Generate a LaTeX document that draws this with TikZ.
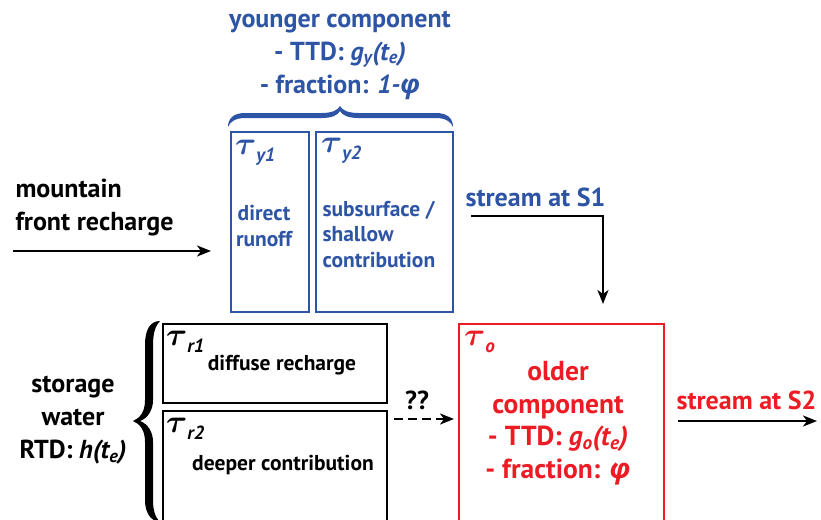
\documentclass[tikz,border=0pt]{standalone}
\usepackage{fontspec}
\usepackage{bm}
\setmainfont{PT Sans}
\newfontfamily\phifont{Open Sans}
\usetikzlibrary{arrows.meta}

\definecolor{youngblue}{RGB}{46,84,165}
\definecolor{oldred}{RGB}{237,28,36}

\newcommand{\tausub}[1]{\scalebox{1.3}{$\bm{\tau}$}\raisebox{-7pt}{\normalfont\bfseries\itshape\fontsize{19}{19}\selectfont #1}}
\newcommand{\phisym}{{\phifont\bfseries\itshape φ}}

\tikzset{
  box/.style={draw, line width=2.4pt, anchor=north west, inner sep=0pt},
  taulabel/.style={anchor=north west, inner sep=0pt},
  boxtext/.style={font=\bfseries\fontsize{21.5}{25.5}\selectfont},
  flow/.style={-{Stealth[length=14pt,width=11pt,inset=4pt]}, line width=2.3pt},
}

\begin{document}
\begin{tikzpicture}[x=1pt,y=-1pt,font=\bfseries\fontsize{26}{33}\selectfont]
  \useasboundingbox (0,0) rectangle (821,519);
  \clip (0,0) rectangle (821,519);

  % younger component
  \node[box, draw=youngblue, minimum width=78pt, minimum height=180pt]
        (runoff) at (230,131) {};
  \node[box, draw=youngblue, minimum width=137pt, minimum height=180pt]
        (shallow) at (315,131) {};
  \node[taulabel, youngblue] (tauy1) at ([shift={(5,9)}]runoff.north west)
        {\tausub{y1}};
  \node[taulabel, youngblue] (tauy2) at ([shift={(6,7)}]shallow.north west)
        {\tausub{y2}};
  \node[boxtext, youngblue, align=center] (runofftxt) at (264,226)
        {direct\\runoff};
  \node[boxtext, youngblue, align=left, anchor=west] (shallowtxt) at (319,234)
        {subsurface /\\shallow\\contribution};
  % brace over the younger boxes
  \fill[youngblue] (228,127) .. controls (228,118) and (234,113) .. (245,113)
    -- (322,113) .. controls (332,113) and (338,110) .. (340,106)
    .. controls (342,110) and (348,113) .. (358,113) -- (436,113)
    .. controls (447,113) and (453,118) .. (453,127)
    .. controls (451,122) and (446,118) .. (436,118) -- (358,118)
    .. controls (348,118) and (342,115) .. (340,111)
    .. controls (338,115) and (332,118) .. (322,118) -- (245,118)
    .. controls (235,118) and (230,122) .. (228,127) -- cycle;
  \node[youngblue, align=center] (young) at (340,55)
        {younger component\\- TTD: \textit{g\textsubscript{y}(t\textsubscript{e})}\\
         - fraction: \textit{1-\phisym}};

  % storage water
  \node[box, minimum width=224pt, minimum height=79pt] (diffuse) at (162,323) {};
  \node[box, minimum width=224pt, minimum height=130pt] (deeper) at (162,410) {};
  \node[taulabel] (taur1) at ([shift={(4,8)}]diffuse.north west)
        {\tausub{r1}};
  \node[taulabel] (taur2) at ([shift={(4,8)}]deeper.north west)
        {\tausub{r2}};
  \node[boxtext] (diffusetxt) at (282,365) {diffuse recharge};
  \node[boxtext] (deepertxt) at (283,465) {deeper contribution};
  % brace round the storage boxes
  \fill (160,321) .. controls (150,321) and (145,330) .. (145,345)
    -- (145,400) .. controls (145,412) and (140,418) .. (133,421)
    .. controls (140,424) and (145,430) .. (145,442) -- (145,500)
    .. controls (145,512) and (150,521) .. (160,522)
    .. controls (156,518) and (153,512) .. (153,500) -- (153,442)
    .. controls (153,432) and (148,424) .. (140,421)
    .. controls (148,418) and (153,410) .. (153,400) -- (153,345)
    .. controls (153,332) and (156,325) .. (160,321) -- cycle;
  \node[align=center] (storage) at (73,420)
        {storage\\water\\RTD: \textit{h(t\textsubscript{e})}};

  % older component
  \node[box, draw=oldred, minimum width=205pt, minimum height=230pt]
        (older) at (458,323) {};
  \node[taulabel, oldred] (tauo) at ([shift={(6,8)}]older.north west)
        {\tausub{o}};
  \node[oldred, align=center, font=\bfseries\fontsize{27.5}{32.5}\selectfont]
        (oldtxt) at (558,423)
        {older\\component\\- TTD: \textit{g\textsubscript{o}(t\textsubscript{e})}\\
         - fraction: \phisym};

  % flows
  \node[align=left, anchor=west] (mountain) at (12,208)
        {mountain\\front recharge};
  \coordinate (mfrstart) at (13,251);
  \coordinate (mfrend) at (211,251);
  \draw[flow] (mfrstart) -- (mfrend);

  \node[youngblue, anchor=west] (streamone) at (462,197) {stream at S1};
  \coordinate (s1start) at (471,216);
  \coordinate (s1end) at (603,304);
  \draw[flow] (s1start) -| (s1end);

  \node[oldred, anchor=west] (streamtwo) at (673,400) {stream at S2};
  \coordinate (s2start) at (678,421);
  \coordinate (s2end) at (817,421);
  \draw[flow] (s2start) -- (s2end);

  \coordinate (leakstart) at ([shift={(6,9)}]deeper.north east);
  \coordinate (leakend) at (leakstart -| older.west);
  \draw[flow, dash pattern=on 9pt off 5pt] (leakstart) -- ([xshift=-4pt]leakend);
  \node (unknown) at (417,400) {??};
\end{tikzpicture}
\end{document}
